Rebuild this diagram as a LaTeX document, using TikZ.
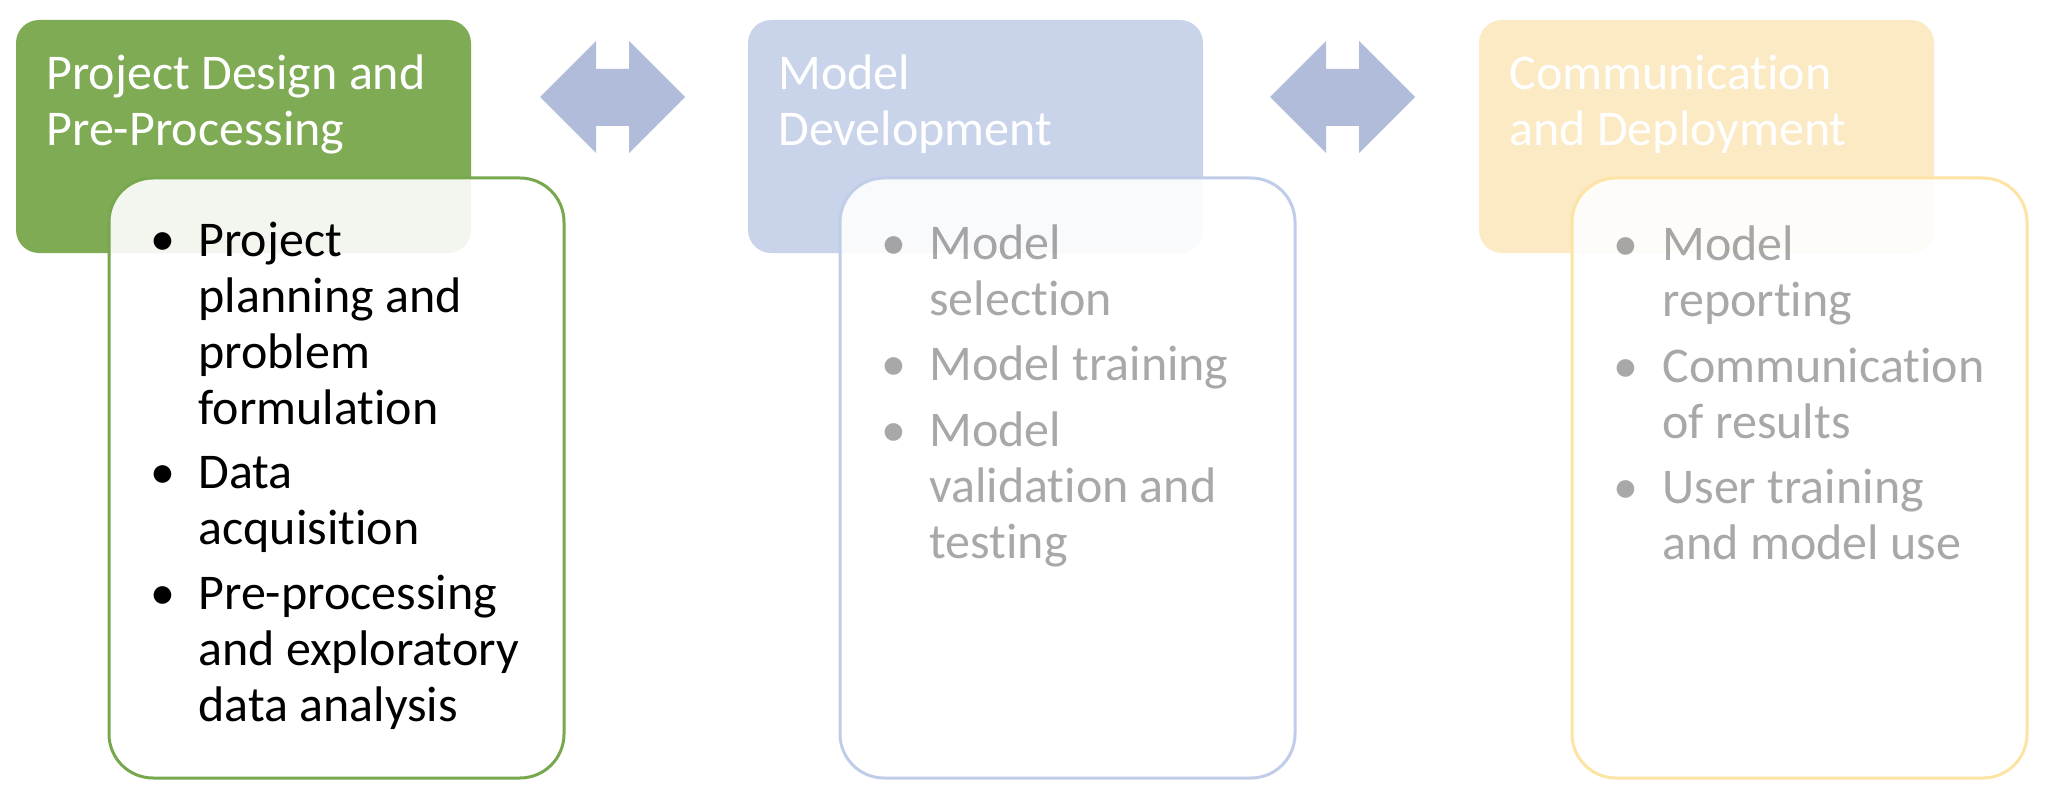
\documentclass[tikz,border=0pt]{standalone}
\usepackage{fontspec}
\setmainfont{Carlito}[Ligatures=NoCommon]
\definecolor{greenH}{HTML}{7FAB55}
\definecolor{greenB}{HTML}{78A84E}
\definecolor{blueH}{HTML}{C9D4EA}
\definecolor{blueB}{HTML}{C0CDE9}
\definecolor{yellowH}{HTML}{FBEAC3}
\definecolor{yellowB}{HTML}{FDE3A4}
\definecolor{arrowC}{HTML}{B1BCDB}
\tikzset{
  hdr/.style={rounded corners=11.5pt},
  bodybox/.style={rounded corners=22pt, fill=white, fill opacity=0.9, line width=1.5pt},
  hdrtext/.style={anchor=base west, inner sep=0pt, align=left, text=white,
    font=\fontsize{25pt}{28pt}\selectfont},
  itm/.style={anchor=base west, inner sep=0pt, align=left,
    font=\fontsize{25pt}{28pt}\selectfont},
  bul/.style={anchor=base, inner sep=0pt, font=\fontsize{25pt}{28pt}\selectfont},
  dim/.style={text=black, text opacity=0.34},
  dblarrow/.style={fill=arrowC, draw=none}
}
\begin{document}
\begin{tikzpicture}[x=0.5pt,y=-0.5pt]
\useasboundingbox[fill=white] (0,0) rectangle (2058,808);
% headers
\fill[hdr, greenH] (16,20) rectangle (471,253);
\fill[hdr, blueH] (748,20) rectangle (1203,253);
\fill[hdr, yellowH] (1479,20) rectangle (1934,253);
% (base anchor = baseline of the last line)
\node[hdrtext] (h1) at (46,146) {Project Design and\\Pre-Processing};
\node[hdrtext] (h2) at (778,146) {Model\\Development};
\node[hdrtext] (h3) at (1509,146) {Communication\\and Deployment};
% arrows
\fill[dblarrow] (540,97) -- (596,41) -- (596,69) -- (629,69) -- (629,41) -- (685,97)
  -- (629,153) -- (629,126) -- (596,126) -- (596,153) -- cycle;
\fill[dblarrow] (1270,97) -- (1326,41) -- (1326,69) -- (1359,69) -- (1359,41) -- (1415,97)
  -- (1359,153) -- (1359,126) -- (1326,126) -- (1326,153) -- cycle;
% bodies
\draw[bodybox, draw=greenB] (109,178) rectangle (564,778);
\draw[bodybox, draw=blueB] (840,178) rectangle (1295,778);
\draw[bodybox, draw=yellowB] (1572,178) rectangle (2027,778);
% green items
\node[bul] (gb1) at (163,256) {•};
\node[itm] (g1) at (198,424) {Project\\planning and\\problem\\formulation};
\node[bul] (gb2) at (163,488) {•};
\node[itm] (g2) at (198,544) {Data\\acquisition};
\node[bul] (gb3) at (163,609) {•};
\node[itm] (g3) at (198,721) {Pre-processing\\and exploratory\\data analysis};
% blue items
\node[bul, dim] (bb1) at (894,259) {•};
\node[itm, dim] (b1) at (929,315) {Model\\selection};
\node[bul, dim] (bb2) at (894,380) {•};
\node[itm, dim] (b2) at (929,380) {Model training};
\node[bul, dim] (bb3) at (894,446) {•};
\node[itm, dim] (b3) at (929,558) {Model\\validation and\\testing};
% yellow items
\node[bul, dim] (yb1) at (1626,260) {•};
\node[itm, dim] (y1) at (1662,316) {Model\\reporting};
\node[bul, dim] (yb2) at (1626,382) {•};
\node[itm, dim] (y2) at (1662,438) {Communication\\of results};
\node[bul, dim] (yb3) at (1626,503) {•};
\node[itm, dim] (y3) at (1662,559) {User training\\and model use};
\end{tikzpicture}
\end{document}
